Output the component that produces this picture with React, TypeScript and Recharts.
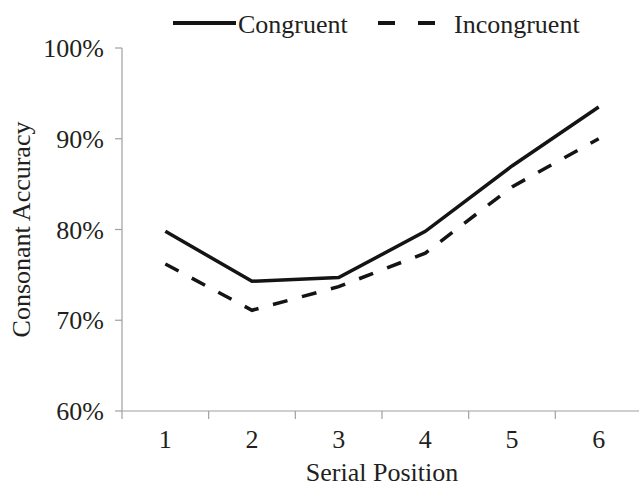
import React from 'react';
import { LineChart, Line, XAxis, YAxis, Legend } from 'recharts';

const positions = [1, 2, 3, 4, 5, 6];
const congruent = [79.8, 74.3, 74.7, 79.8, 87.0, 93.5];
const incongruent = [76.2, 71.1, 73.7, 77.4, 84.7, 90.0];
const yTicks = [60, 70, 80, 90, 100];
// category centres plus the boundaries between them
const xTicks = [0.5, 1, 1.5, 2, 2.5, 3, 3.5, 4, 4.5, 5, 5.5, 6, 6.5];

const data = positions.map((p, i) => ({
  pos: p,
  congruent: congruent[i],
  incongruent: incongruent[i],
}));

const FONT = '"Liberation Serif", "Times New Roman", serif';
const INK = '#231f20';
const AXIS = '#a0a0a0';
const LINE = '#141414';

const XTick = (props: any) => {
  const { x, y, payload } = props;
  const v = payload.value;
  if (Number.isInteger(v)) {
    return (
      <text x={x} y={y} dy="0.71em" textAnchor="middle" fontSize={26} fontFamily={FONT} fill={INK}>
        {v}
      </text>
    );
  }
  // boundary tick mark, drawn from the axis line downwards
  return <line x1={x} x2={x} y1={y - 19} y2={y - 11} stroke={AXIS} strokeWidth={1.2} />;
};

const YTitle = (props: any) => {
  const { viewBox } = props;
  const cy = viewBox.y + viewBox.height / 2;
  const cx = 30;
  return (
    <text
      x={cx}
      y={cy}
      transform={`rotate(-90, ${cx}, ${cy})`}
      textAnchor="middle"
      fontSize={26}
      fontFamily={FONT}
      fill={INK}
    >
      Consonant Accuracy
    </text>
  );
};

const legendItems = [
  { name: 'Congruent', dash: undefined as string | undefined, x1: 173, x2: 236, tx: 238 },
  { name: 'Incongruent', dash: '17 23', x1: 378, x2: 437, tx: 454 },
];

const renderLegend = () => (
  <div style={{ height: 48, width: 639 }}>
    <svg width={639} height={48}>
      {legendItems.map((it) => (
        <g key={it.name}>
          <line x1={it.x1} x2={it.x2} y1={23} y2={23} stroke={LINE} strokeWidth={3.8} strokeDasharray={it.dash} />
          <text x={it.tx} y={33} fontSize={26} fontFamily={FONT} fill={INK}>
            {it.name}
          </text>
        </g>
      ))}
    </svg>
  </div>
);

export default function App() {
  return (
    <div style={{ position: 'absolute', left: 0, top: 0, width: 639, height: 486, overflow: 'hidden', background: '#fff' }}>
      <LineChart width={642} height={486} data={data} margin={{ top: 0, right: 0, left: 0, bottom: 0 }}>
        <Legend verticalAlign="top" align="left" content={renderLegend} wrapperStyle={{ left: 0, top: 0 }} />
        <XAxis
          dataKey="pos"
          type="number"
          domain={[0.5, 6.5]}
          ticks={xTicks}
          interval={0}
          height={75}
          stroke={AXIS}
          strokeWidth={1.2}
          tickLine={false}
          tickSize={8}
          tickMargin={11}
          tick={<XTick />}
          label={{ value: 'Serial Position', position: 'insideBottom', offset: 5, fontSize: 26, fontFamily: FONT, fill: INK }}
        />
        <YAxis
          domain={[60, 100]}
          ticks={yTicks}
          interval={0}
          width={122}
          stroke={AXIS}
          strokeWidth={1.2}
          tickSize={7}
          tickMargin={11}
          tickFormatter={(v: number) => `${v}%`}
          tick={{ fontSize: 26, fontFamily: FONT, fill: INK }}
          label={<YTitle />}
        />
        <Line
          dataKey="congruent"
          name="Congruent"
          stroke={LINE}
          strokeWidth={3.5}
          dot={false}
          isAnimationActive={false}
        />
        <Line
          dataKey="incongruent"
          name="Incongruent"
          stroke={LINE}
          strokeWidth={3.5}
          strokeDasharray="15 15"
          dot={false}
          isAnimationActive={false}
        />
      </LineChart>
    </div>
  );
}
